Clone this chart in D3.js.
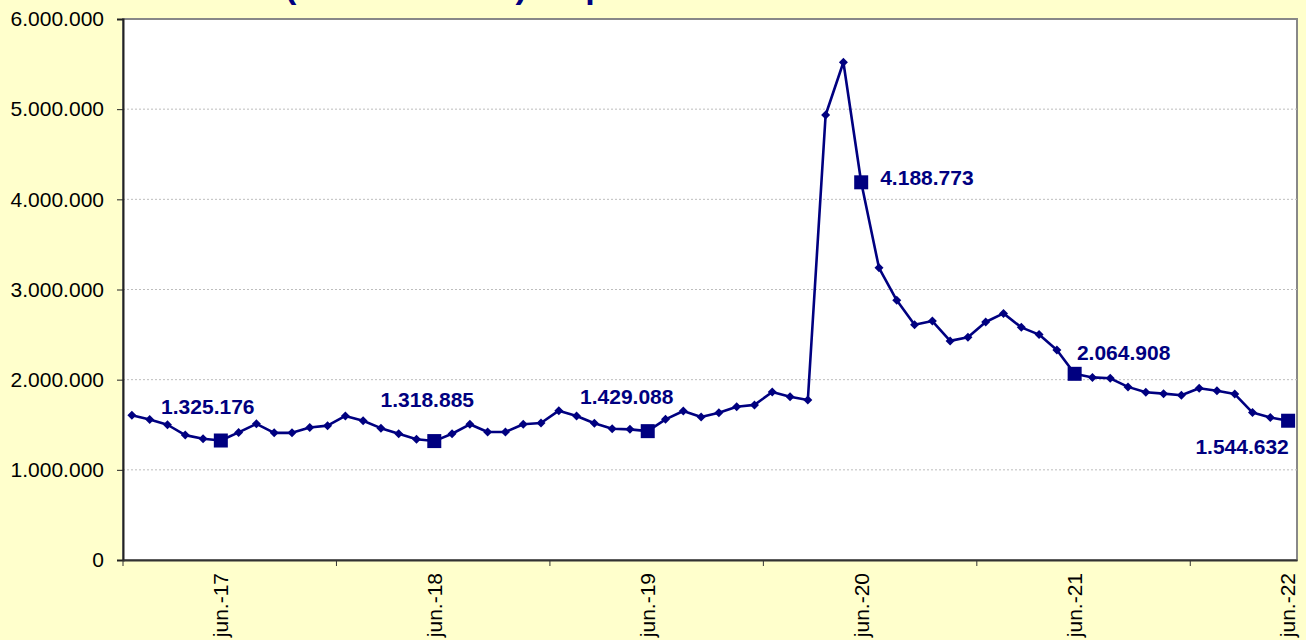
<!DOCTYPE html>
<html>
<head>
<meta charset="utf-8">
<script src="https://cdn.jsdelivr.net/npm/d3@7"></script>
<style>
  html, body { margin: 0; padding: 0; background: #ffffcc; }
  svg { display: block; font-family: "Liberation Sans", Arial, sans-serif; }
</style>
</head>
<body>
<svg id="chart" width="1306" height="640"></svg>
<script>
// month / year pieces used to build the category labels
const monthNames = ['ene.', 'feb.', 'mar.', 'abr.', 'may.', 'jun.', 'jul.', 'ago.', 'sep.', 'oct.', 'nov.', 'dic.'];
const years = ['17', '18', '19', '20', '21', '22'];

// one value per month, ene.-17 .. jun.-22
const values = [
  1605000, 1558000, 1500000, 1385000, 1345000, 1325176, 1415000, 1510000, 1410000, 1410000, 1470000, 1490000,
  1598000, 1545000, 1462000, 1400000, 1340000, 1318885, 1400000, 1505000, 1420000, 1420000, 1505000, 1520000,
  1656000, 1597000, 1516000, 1456000, 1449000, 1429088, 1560000, 1652000, 1586000, 1634000, 1700000, 1720000,
  1863000, 1810000, 1774000, 4935000, 5520000, 4188773, 3240000, 2880000, 2610000, 2650000, 2430000, 2470000,
  2640000, 2735000, 2580000, 2500000, 2330000, 2064908, 2025000, 2015000, 1920000, 1860000, 1845000, 1828000,
  1905000, 1878000, 1840000, 1635000, 1580000, 1544632
];

// categories that get a big marker + label, and the x tick labels
const highlighted = ['jun.-17', 'jun.-18', 'jun.-19', 'jun.-20', 'jun.-21', 'jun.-22'];
const yTicks = [0, 1000000, 2000000, 3000000, 4000000, 5000000, 6000000];

const titleText = 'Beneficiarios (total nacional) de prestaciones';

let categories = [];
for (let i = 0; i < years.length; i++) {
  for (let j = 0; j < monthNames.length; j++) {
    categories.push(monthNames[j] + '-' + years[i]);
  }
}
categories = categories.slice(0, values.length);

const data = categories.map((c, i) => ({ cat: c, value: values[i] }));

// where each data label sits relative to its point (dx, dy, anchor)
const labelPos = {
  'jun.-17': [-13, -27, 'middle'],
  'jun.-18': [-7, -34, 'middle'],
  'jun.-19': [-21, -27, 'middle'],
  'jun.-20': [19, 3, 'start'],
  'jun.-21': [49, -14, 'middle'],
  'jun.-22': [-46, 33, 'middle']
};

const navy = '#000080';
const plotLeft = 123, plotRight = 1297, plotTop = 19, plotBottom = 560;

const locale = d3.formatLocale({ decimal: ',', thousands: '.', grouping: [3], currency: ['', '€'] });
const fmt = locale.format(',d');

const x = d3.scaleBand()
  .domain(categories)
  .range([plotLeft, plotRight])
  .padding(0);

const y = d3.scaleLinear()
  .domain([0, 6000000])
  .range([plotBottom, plotTop]);

const svg = d3.select('#chart');

// title (mostly cut off by the top edge, as in the source)
const title = svg.append('text')
  .attr('y', -2)
  .attr('fill', navy)
  .attr('font-size', 34)
  .attr('font-weight', 'bold')
  .text(titleText);
const parenPos = title.node().getStartPositionOfChar(titleText.indexOf('(')).x;
title.attr('x', 285 - parenPos);

// plot area
svg.append('rect')
  .attr('x', plotLeft)
  .attr('y', plotTop)
  .attr('width', plotRight - plotLeft)
  .attr('height', plotBottom - plotTop)
  .attr('fill', '#fff')
  .attr('stroke', '#888')
  .attr('stroke-width', 2);

// gridlines
svg.append('g')
  .selectAll('line')
  .data(yTicks.slice(1, -1))
  .enter()
  .append('line')
  .attr('x1', plotLeft)
  .attr('x2', plotRight)
  .attr('y1', d => y(d))
  .attr('y2', d => y(d))
  .attr('stroke', '#bdbdbd')
  .attr('stroke-dasharray', '2,2');

// y axis
const yAxis = svg.append('g')
  .attr('transform', `translate(${plotLeft},0)`)
  .call(d3.axisLeft(y).tickValues(yTicks).tickFormat(fmt).tickSize(6).tickPadding(13));
yAxis.select('.domain').attr('stroke', '#222').attr('stroke-width', 2);
yAxis.selectAll('.tick line').attr('stroke', '#222');
yAxis.selectAll('.tick text')
  .attr('font-size', 21)
  .attr('font-family', '"Liberation Sans", Arial, sans-serif')
  .attr('fill', '#000');

// x axis: ticks between years, labels at June
const xAxis = svg.append('g')
  .attr('transform', `translate(0,${plotBottom})`)
  .call(d3.axisBottom(x).tickValues([]).tickSizeOuter(0));
xAxis.select('.domain').attr('stroke', '#333').attr('stroke-width', 2);

const yearStarts = categories.filter((c, i) => i % 12 === 0);
xAxis.selectAll('.yr-tick')
  .data(yearStarts)
  .enter()
  .append('line')
  .attr('x1', d => x(d))
  .attr('x2', d => x(d))
  .attr('y1', 0)
  .attr('y2', 6)
  .attr('stroke', '#333');

xAxis.selectAll('.jun-label')
  .data(highlighted)
  .enter()
  .append('text')
  .attr('transform', d => `translate(${x(d) + x.bandwidth() / 2},13) rotate(-90)`)
  .attr('text-anchor', 'end')
  .attr('dy', '0.35em')
  .attr('font-size', 21)
  .attr('fill', '#000')
  .text(d => d);

// the line
const line = d3.line()
  .x(d => x(d.cat) + x.bandwidth() / 2)
  .y(d => y(d.value));

svg.append('path')
  .datum(data)
  .attr('d', line)
  .attr('fill', 'none')
  .attr('stroke', navy)
  .attr('stroke-width', 2.6)
  .attr('stroke-linejoin', 'round');

// small diamonds
svg.append('g')
  .selectAll('path')
  .data(data.filter(d => highlighted.indexOf(d.cat) < 0))
  .enter()
  .append('path')
  .attr('transform', d => `translate(${x(d.cat) + x.bandwidth() / 2},${y(d.value)})`)
  .attr('d', 'M0,-4.5L4.5,0L0,4.5L-4.5,0Z')
  .attr('fill', navy);

// big squares for June
const juneData = data.filter(d => highlighted.indexOf(d.cat) >= 0);
svg.append('g')
  .selectAll('rect')
  .data(juneData)
  .enter()
  .append('rect')
  .attr('x', d => x(d.cat) + x.bandwidth() / 2 - 7)
  .attr('y', d => y(d.value) - 7)
  .attr('width', 14)
  .attr('height', 14)
  .attr('fill', navy);

// data labels
svg.append('g')
  .selectAll('text')
  .data(juneData)
  .enter()
  .append('text')
  .attr('x', d => x(d.cat) + x.bandwidth() / 2 + labelPos[d.cat][0])
  .attr('y', d => y(d.value) + labelPos[d.cat][1])
  .attr('text-anchor', d => labelPos[d.cat][2])
  .attr('font-size', 21)
  .attr('font-weight', 'bold')
  .attr('fill', navy)
  .text(d => fmt(d.value));
</script>
</body>
</html>
